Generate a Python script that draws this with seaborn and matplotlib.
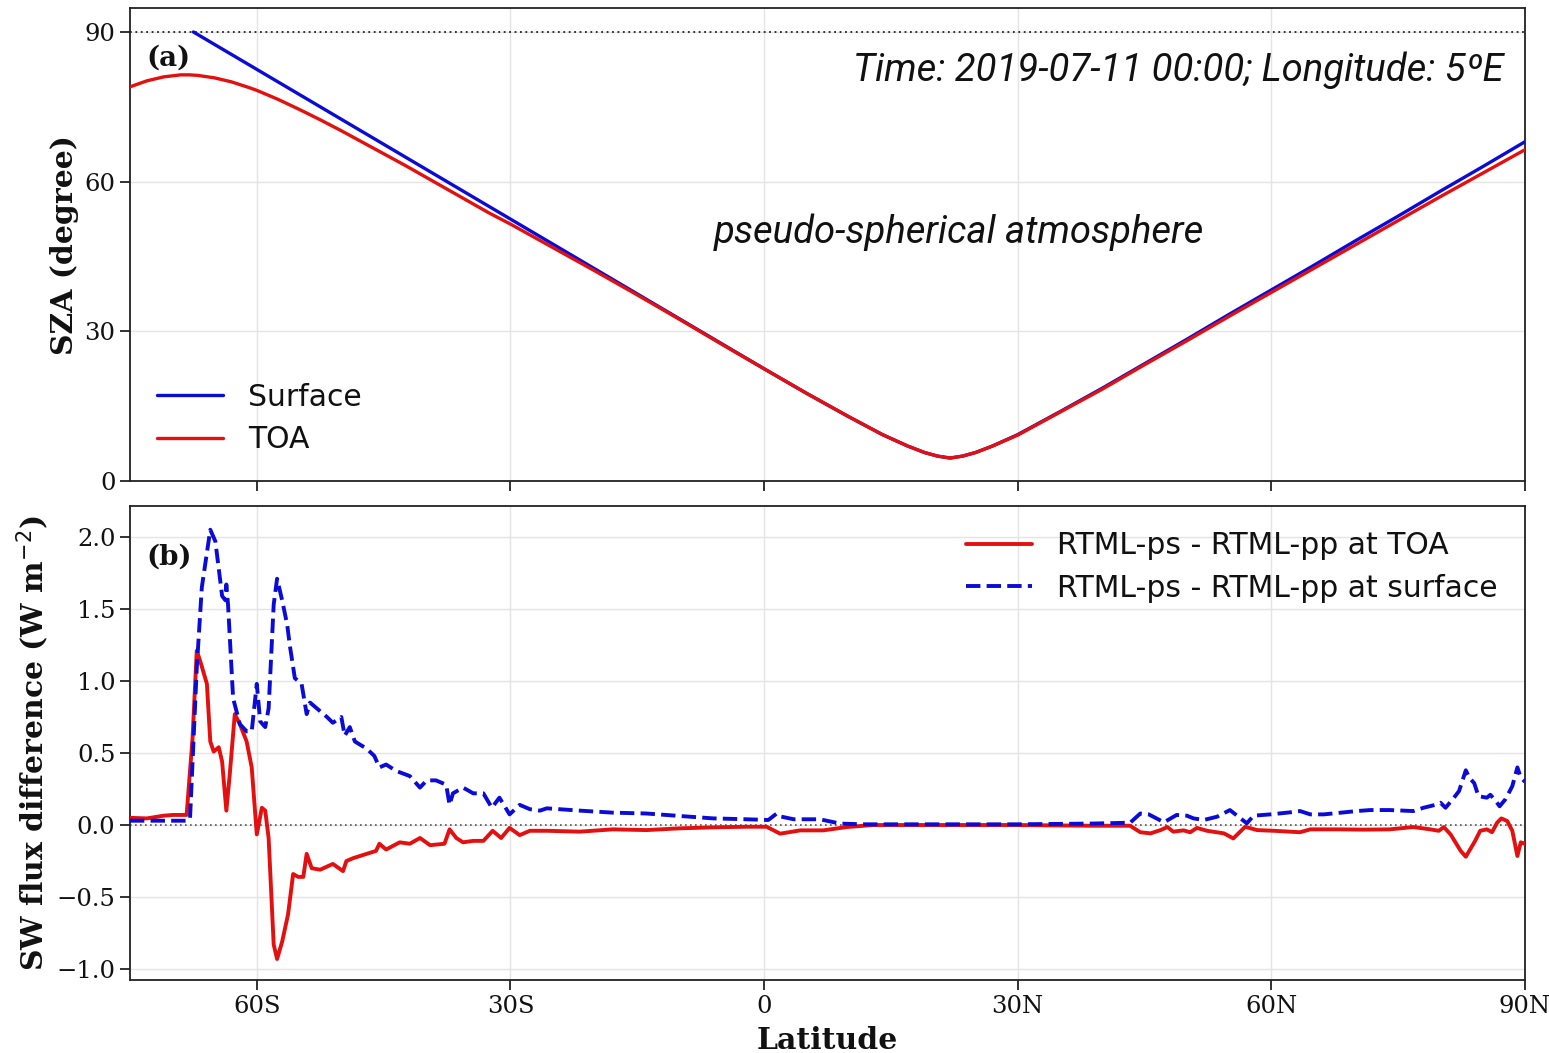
import numpy as np
import pandas as pd
import matplotlib
matplotlib.use("Agg")
import matplotlib.pyplot as plt
import seaborn as sns

# ---------------- data ----------------
lat_sfc = [-67.5, -65, -60, -55, -50, -45, -40, -35, -30, -25, -20, -15, -10, -5, 0, 5, 10,
           14, 17, 19, 20.5, 22, 23.5, 25, 27, 30, 35, 40, 45, 50, 55, 60, 65, 70, 75, 80, 85, 90]
sza_sfc = [90.0, 87.5, 82.5, 77.5, 72.5, 67.5, 62.5, 57.5, 52.5, 47.5, 42.5, 37.5, 32.5, 27.5,
           22.5, 17.6, 12.9, 9.3, 7.0, 5.7, 5.0, 4.6, 5.0, 5.7, 7.0, 9.3, 13.9, 18.6, 23.5, 28.4,
           33.4, 38.3, 43.2, 48.2, 53.1, 58.1, 63.0, 68.0]

lat_toa = [-75, -73, -71, -69, -68, -67, -65, -63, -61, -60, -57.5, -55, -52.5, -50, -47.5, -45,
           -42.5, -40, -37.5, -35, -32.5, -30, -25, -20, -15, -10, -5, 0, 5, 10,
           14, 17, 19, 20.5, 22, 23.5, 25, 27, 30, 35, 40, 45, 50, 55, 60, 65, 70, 75, 80, 85, 90]
sza_toa = [79.0, 80.2, 81.0, 81.4, 81.4, 81.3, 80.8, 80.0, 78.9, 78.3, 76.5, 74.5, 72.4, 70.2,
           67.9, 65.6, 63.3, 60.9, 58.5, 56.1, 53.7, 51.5, 46.8, 42.1, 37.3, 32.4, 27.4, 22.5,
           17.6, 12.9, 9.3, 7.0, 5.7, 5.0, 4.6, 5.0, 5.7, 7.0, 9.2, 13.8, 18.4, 23.3, 28.1,
           33.0, 37.8, 42.6, 47.4, 52.2, 57.0, 61.7, 66.4]

lat_dtoa = [-75, -73, -71, -69.9, -68.3, -67.6, -67.1, -66.7, -65.9, -65.5, -65.1, -64.5, -64.1,
            -63.6, -63.2, -62.6, -62.0, -61.2, -60.6, -60.0, -59.4, -59.0, -58.6, -58.0, -57.6,
            -57.0, -56.3, -55.7, -55.1, -54.5, -54.1, -53.5, -52.5, -51.0, -49.8, -49.4, -48.6,
            -47.0, -45.9, -45.5, -44.7, -43.1, -41.9, -40.7, -39.5, -37.8, -37.2, -36.4, -35.6,
            -34.4, -33.2, -32.1, -31.1, -30.1, -28.9, -27.7, -26.5, -25.7, -21.8, -17.9, -13.9,
            -10.0, -6.0, -2.1, 0.3, 1.9, 4.3, 7.0, 9.8, 12.9, 20, 30, 38.6, 43.3, 44.5, 45.7,
            46.9, 47.7, 48.4, 49.6, 50.4, 51.2, 52.4, 54.4, 55.5, 56.9, 58.3, 60.3, 63.4, 64.6,
            68.2, 70.9, 74.0, 76.8, 78.8, 79.8, 80.4, 81.2, 82.4, 83.0, 83.6, 84.1, 84.7, 85.5,
            86.1, 86.7, 87.2, 87.9, 88.5, 89.1, 89.5, 90.0]
dtoa = [0.05, 0.046, 0.065, 0.07, 0.07, 0.6, 1.21, 1.14, 0.98, 0.58, 0.51, 0.54, 0.44,
        0.10, 0.35, 0.77, 0.70, 0.58, 0.40, -0.065, 0.12, 0.10, -0.09, -0.83, -0.93,
        -0.81, -0.62, -0.34, -0.36, -0.36, -0.20, -0.30, -0.31, -0.27, -0.32, -0.25, -0.23,
        -0.20, -0.18, -0.13, -0.17, -0.12, -0.13, -0.09, -0.14, -0.13, -0.03, -0.09, -0.12,
        -0.11, -0.11, -0.04, -0.09, -0.02, -0.07, -0.04, -0.04, -0.04, -0.046, -0.03, -0.035,
        -0.023, -0.016, -0.012, -0.012, -0.06, -0.037, -0.037, -0.014, 0.0, 0.0, 0.0, -0.005, -0.005, -0.05, -0.058,
        -0.035, -0.014, -0.046, -0.037, -0.05, -0.02, -0.04, -0.058, -0.093, -0.012, -0.035, -0.04, -0.05, -0.03,
        -0.03, -0.032, -0.03, -0.014, -0.03, -0.04, -0.014, -0.065, -0.18, -0.22, -0.16, -0.11, -0.04, -0.03,
        -0.05, 0.016, 0.046, 0.028, -0.04, -0.215, -0.12, -0.13]

lat_dsfc = [-75, -68.3, -67.9, -67.1, -66.5, -65.5, -64.9, -64.1, -63.7, -63.6, -63.4, -62.8,
            -62.0, -61.2, -60.6, -60.0, -59.6, -59.0, -58.6, -58.0, -57.6, -57.0, -56.4, -56.1,
            -55.5, -54.7, -54.1, -53.7, -52.9, -51.7, -51.0, -50.0, -49.6, -49.0, -48.4, -47.0,
            -46.1, -45.5, -44.7, -43.5, -41.9, -40.7, -39.9, -38.8, -37.6, -37.2, -36.8, -35.6,
            -34.4, -33.2, -32.2, -31.3, -30.1, -28.9, -27.7, -26.5, -25.7, -21.8, -17.9, -13.9,
            -10.0, -6.0, -2.1, 0.5, 1.5, 1.9, 3.5, 6.6, 9.0, 11.8, 20, 30, 38.6, 43.3, 44.5, 45.5,
            47.3, 48.8, 50.0, 50.8, 52.0, 53.6, 55.1, 57.1, 57.9, 59.9, 62.2, 63.4, 64.6, 66.2,
            68.6, 70.1, 71.7, 74.0, 76.8, 78.0, 79.4, 80.0, 80.6, 81.6, 82.2, 83.0, 83.4, 84.0,
            84.5, 85.5, 85.9, 86.5, 87.0, 87.7, 88.5, 89.1, 89.5, 90.0]
dsfc = [0.03, 0.03, 0.04, 1.09, 1.65, 2.05, 1.97, 1.59, 1.56, 1.67, 1.53, 0.88,
        0.70, 0.65, 0.65, 0.98, 0.72, 0.68, 0.81, 1.53, 1.71, 1.56, 1.39, 1.25,
        1.02, 0.98, 0.77, 0.85, 0.81, 0.75, 0.71, 0.75, 0.62, 0.68, 0.58, 0.53,
        0.48, 0.40, 0.42, 0.375, 0.34, 0.26, 0.31, 0.31, 0.28, 0.14, 0.22, 0.26,
        0.22, 0.22, 0.12, 0.19, 0.074, 0.14, 0.11, 0.10, 0.116, 0.10, 0.086, 0.08,
        0.063, 0.046, 0.04, 0.035, 0.08, 0.06, 0.04, 0.04, 0.01, 0.005, 0.005, 0.005, 0.01, 0.016, 0.08, 0.074,
        0.019, 0.07, 0.065, 0.046, 0.035, 0.058, 0.104, 0.012, 0.065, 0.074, 0.088, 0.097, 0.074, 0.074,
        0.088, 0.097, 0.104, 0.104, 0.097, 0.12, 0.14, 0.155, 0.12, 0.19, 0.236, 0.38, 0.33, 0.29,
        0.20, 0.19, 0.21, 0.17, 0.13, 0.18, 0.27, 0.40, 0.33, 0.30]

xticks = [-60, -30, 0, 30, 60, 90]
xticklabels = ["60S", "30S", "0", "30N", "60N", "90N"]

# ---------------- style ----------------
sns.set_style("ticks")
plt.rcParams["font.family"] = ["DejaVu Serif"]

RED = "#e4100f"
BLUE = "#0b0bd8"
GRID = "#e4e4e4"
INK = "#111111"

fig = plt.figure(figsize=(15.49, 10.53), dpi=100)
ax1 = fig.add_axes([0.0839, 0.5432, 0.9006, 0.4492])
ax2 = fig.add_axes([0.0839, 0.0693, 0.9006, 0.4502])

df_sfc = pd.DataFrame({"lat": lat_sfc, "sza": sza_sfc})
df_toa = pd.DataFrame({"lat": lat_toa, "sza": sza_toa})
sns.lineplot(data=df_sfc, x="lat", y="sza", ax=ax1, color=BLUE, lw=2.4, label="Surface", zorder=3)
sns.lineplot(data=df_toa, x="lat", y="sza", ax=ax1, color=RED, lw=2.4, label="TOA", zorder=4)
ax1.axhline(90, color="#222222", ls=(0, (1, 2)), lw=1.3, zorder=2)

df_dt = pd.DataFrame({"lat": lat_dtoa, "d": dtoa})
df_ds = pd.DataFrame({"lat": lat_dsfc, "d": dsfc})
sns.lineplot(data=df_dt, x="lat", y="d", ax=ax2, color=RED, lw=2.8,
             label="RTML-ps - RTML-pp at TOA", zorder=3)
sns.lineplot(data=df_ds, x="lat", y="d", ax=ax2, color=BLUE, lw=2.8, ls="--",
             label="RTML-ps - RTML-pp at surface", zorder=4)
ax2.axhline(0, color="#555555", ls=(0, (1, 2)), lw=1.2, zorder=2)

for ax in (ax1, ax2):
    ax.set_xlim(-75, 90)
    ax.set_xticks(xticks)
    ax.grid(True, color=GRID, lw=1.0)
    ax.set_axisbelow(True)
    for s in ax.spines.values():
        s.set_color("#222222")
        s.set_linewidth(1.3)
    ax.tick_params(axis="both", labelsize=17.5, length=7, width=1.3, color="#222222",
                   labelcolor=INK, direction="out")

ax1.set_ylim(0, 94.8)
ax1.set_yticks([0, 30, 60, 90])
ax1.set_xticklabels([])
ax1.set_xlabel("")
ax1.set_ylabel("SZA (degree)", fontsize=21.5, fontweight="bold", color=INK)

ax2.set_ylim(-1.076, 2.215)
ax2.set_yticks([-1.0, -0.5, 0.0, 0.5, 1.0, 1.5, 2.0])
ax2.set_xticklabels(xticklabels)
ax2.set_xlabel("Latitude", fontsize=21.5, fontweight="bold", labelpad=6, color=INK)
ax2.set_ylabel("SW flux difference (W m$^{-2}$)", fontsize=21.5, fontweight="bold", color=INK)

ax1.text(0.012, 0.894, "(a)", transform=ax1.transAxes, fontsize=20, fontweight="bold",
         ha="left", va="center", color=INK)
ax2.text(0.012, 0.892, "(b)", transform=ax2.transAxes, fontsize=20, fontweight="bold",
         ha="left", va="center", color=INK)

ax1.text(0.985, 0.868, "Time: 2019-07-11 00:00; Longitude: 5ºE", transform=ax1.transAxes,
         fontsize=27.5, style="italic", family=["Roboto", "DejaVu Sans"], ha="right",
         va="center", color=INK)
ax1.text(0.594, 0.525, "pseudo-spherical atmosphere", transform=ax1.transAxes,
         fontsize=27.5, style="italic", family=["Roboto", "DejaVu Sans"], ha="center",
         va="center", color=INK)

leg1 = ax1.legend(loc="lower left", bbox_to_anchor=(0.0, 0.0), frameon=False,
                  prop={"family": "DejaVu Sans", "size": 21.5}, handlelength=2.2,
                  handletextpad=0.85, labelspacing=0.45)
leg2 = ax2.legend(loc="upper right", bbox_to_anchor=(1.0, 1.003), frameon=False,
                  prop={"family": "DejaVu Sans", "size": 21.5}, handlelength=2.2,
                  handletextpad=0.85, labelspacing=0.45)
for leg in (leg1, leg2):
    for t in leg.get_texts():
        t.set_color(INK)

fig.savefig("out.png", dpi=100)
